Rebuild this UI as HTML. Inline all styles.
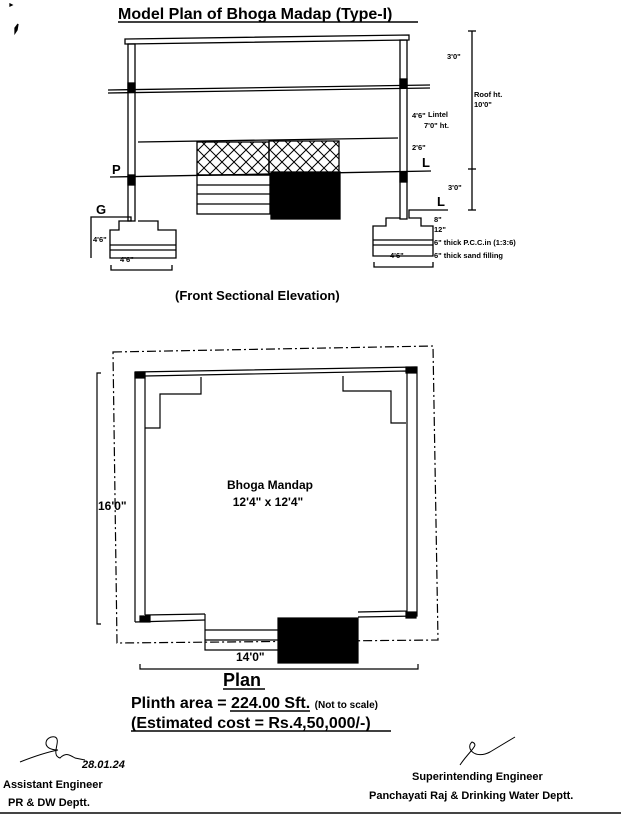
<!DOCTYPE html>
<html><head><meta charset="utf-8"><style>
html,body{margin:0;padding:0;background:#fff;}
svg{display:block;}
text{font-family:"Liberation Sans",sans-serif;font-weight:bold;fill:#000;}
</style></head><body>
<svg width="621" height="816" viewBox="0 0 621 816" xmlns="http://www.w3.org/2000/svg">
<g fill="none" stroke="#000" stroke-width="1.3">
<text x="118" y="19" font-size="16" stroke="none">Model Plan of Bhoga Madap (Type-I)</text>
<line x1="118" y1="22" x2="418" y2="22" stroke-width="1.6"/>
<path d="M10 4 l2 1 -2 1z" fill="#000"/>
<path d="M15 28 l3 -4 -1 6 -2 3z" fill="#000"/>
<path d="M125 39 L409 35 L409 40 L125 44 Z"/>
<rect x="128" y="44" width="7" height="177"/>
<rect x="400" y="40" width="7" height="179"/>
<rect x="128" y="83" width="7" height="9" fill="#000"/>
<rect x="400" y="79" width="7" height="9" fill="#000"/>
<rect x="128" y="175" width="7" height="10" fill="#000"/>
<rect x="400" y="172" width="7" height="10" fill="#000"/>
<line x1="108" y1="90" x2="430" y2="85"/>
<line x1="108" y1="93" x2="430" y2="88"/>
<line x1="138" y1="142" x2="398" y2="138"/>
<line x1="110" y1="177" x2="431" y2="171"/>
<defs><pattern id="h" width="12" height="12" patternUnits="userSpaceOnUse"><path d="M0 0L12 12M12 0L0 12" stroke="#000" stroke-width="1"/></pattern></defs>
<rect x="197" y="142" width="72" height="33" fill="url(#h)"/>
<rect x="269" y="141" width="70" height="33" fill="url(#h)"/>
<rect x="197" y="175" width="73" height="39"/>
<line x1="197" y1="185" x2="270" y2="185"/><line x1="197" y1="194" x2="270" y2="194"/><line x1="197" y1="204" x2="270" y2="204"/>
<rect x="271" y="172" width="69" height="47" fill="#000"/>
<path d="M91 258 V217 H131 V221 H119 V230 H110 V258 H176 V230 H158 V221 H138"/>
<line x1="110" y1="245" x2="176" y2="245"/><line x1="110" y1="250" x2="176" y2="250"/>
<path d="M111 265 V270 H172 V265"/>
<path d="M448 210 H409 V218 H421 V226 H433 V256 H373 V226 H386 V218 H400"/>
<line x1="373" y1="240" x2="433" y2="240"/><line x1="373" y1="245" x2="433" y2="245"/>
<path d="M374 262 V267 H433 V262"/>
<line x1="472" y1="31" x2="472" y2="210"/>
<line x1="468" y1="31" x2="476" y2="31"/><line x1="468" y1="169" x2="476" y2="169"/><line x1="468" y1="210" x2="476" y2="210"/>
</g>
<g font-size="7.5">
<text x="447" y="59">3'0"</text>
<text x="474" y="97">Roof ht.</text>
<text x="474" y="107">10'0"</text>
<text x="428" y="117">Lintel</text>
<text x="424" y="128">7'0" ht.</text>
<text x="412" y="118">4'6"</text>
<text x="412" y="150">2'6"</text>
<text x="448" y="190">3'0"</text>
<text x="434" y="222">8"</text>
<text x="434" y="232">12"</text>
<text x="434" y="245">6" thick P.C.C.in (1:3:6)</text>
<text x="434" y="258">6" thick sand filling</text>
<text x="390" y="258">4'6"</text>
<text x="93" y="242">4'6"</text>
<text x="120" y="262">4'6"</text>
</g>
<text x="112" y="174" font-size="13">P</text>
<text x="422" y="167" font-size="13">L</text>
<text x="437" y="206" font-size="13">L</text>
<text x="96" y="214" font-size="13">G</text>
<text x="175" y="300" font-size="13">(Front Sectional Elevation)</text>
<g fill="none" stroke="#000" stroke-width="1.2">
<path d="M113 352 L433 346 L438 640 L117 643 Z" stroke-dasharray="9,3,2,3"/>
<path d="M135 372 L417 367 L417 616 L358 617 M205 620 L135 622 Z"/>
<path d="M145 376 L407 371 L407 611 L358 612 M205 614 L145 615 Z"/>
<line x1="135" y1="372" x2="135" y2="622"/>
<line x1="145" y1="376" x2="145" y2="615"/>
<rect x="135" y="372" width="10" height="6" fill="#000"/>
<rect x="406" y="367" width="10" height="6" fill="#000"/>
<rect x="140" y="616" width="10" height="6" fill="#000"/>
<rect x="406" y="612" width="10" height="6" fill="#000"/>
<path d="M201 377 V394 H160 V428 H145"/>
<path d="M343 376 V391 H391 V423 H406"/>
<path d="M205 614 V650 H278"/>
<line x1="205" y1="630" x2="278" y2="630"/><line x1="205" y1="640" x2="278" y2="640"/>
<rect x="278" y="618" width="80" height="45" fill="#000"/>
<path d="M101 373 H97 V624 H101"/>
<path d="M140 664 V669 H418 V664"/>
</g>
<text x="98" y="510" font-size="12">16'0"</text>
<text x="236" y="661" font-size="12">14'0"</text>
<text x="270" y="489" font-size="12" text-anchor="middle">Bhoga Mandap</text>
<text x="268" y="506" font-size="12" text-anchor="middle">12'4" x 12'4"</text>
<text x="223" y="686" font-size="18">Plan</text>
<line x1="223" y1="689" x2="265" y2="689" stroke="#000" stroke-width="1.6"/>
<text x="131" y="708" font-size="16">Plinth area = 224.00 Sft. <tspan font-size="10">(Not to scale)</tspan></text>
<line x1="230" y1="711" x2="310" y2="711" stroke="#000" stroke-width="1.5"/>
<text x="131" y="728" font-size="16">(Estimated cost = Rs.4,50,000/-)</text>
<line x1="131" y1="731" x2="391" y2="731" stroke="#000" stroke-width="1.6"/>
<path d="M20 762 C35 756 48 752 58 750 C40 750 45 735 55 737 C62 740 50 755 60 758 C66 752 70 755 75 758 L85 760" fill="none" stroke="#000" stroke-width="1"/>
<text x="82" y="768" font-size="11" font-style="italic" font-weight="normal">28.01.24</text>
<path d="M460 765 C470 750 480 745 472 742 C465 748 475 760 490 752 L515 737" fill="none" stroke="#000" stroke-width="1"/>
<text x="3" y="788" font-size="11">Assistant  Engineer</text>
<text x="8" y="806" font-size="11">PR &amp; DW Deptt.</text>
<text x="412" y="780" font-size="11">Superintending Engineer</text>
<text x="369" y="799" font-size="11">Panchayati Raj &amp; Drinking Water Deptt.</text>
<line x1="0" y1="813" x2="621" y2="813" stroke="#444" stroke-width="2"/>
</svg>
</body></html>
